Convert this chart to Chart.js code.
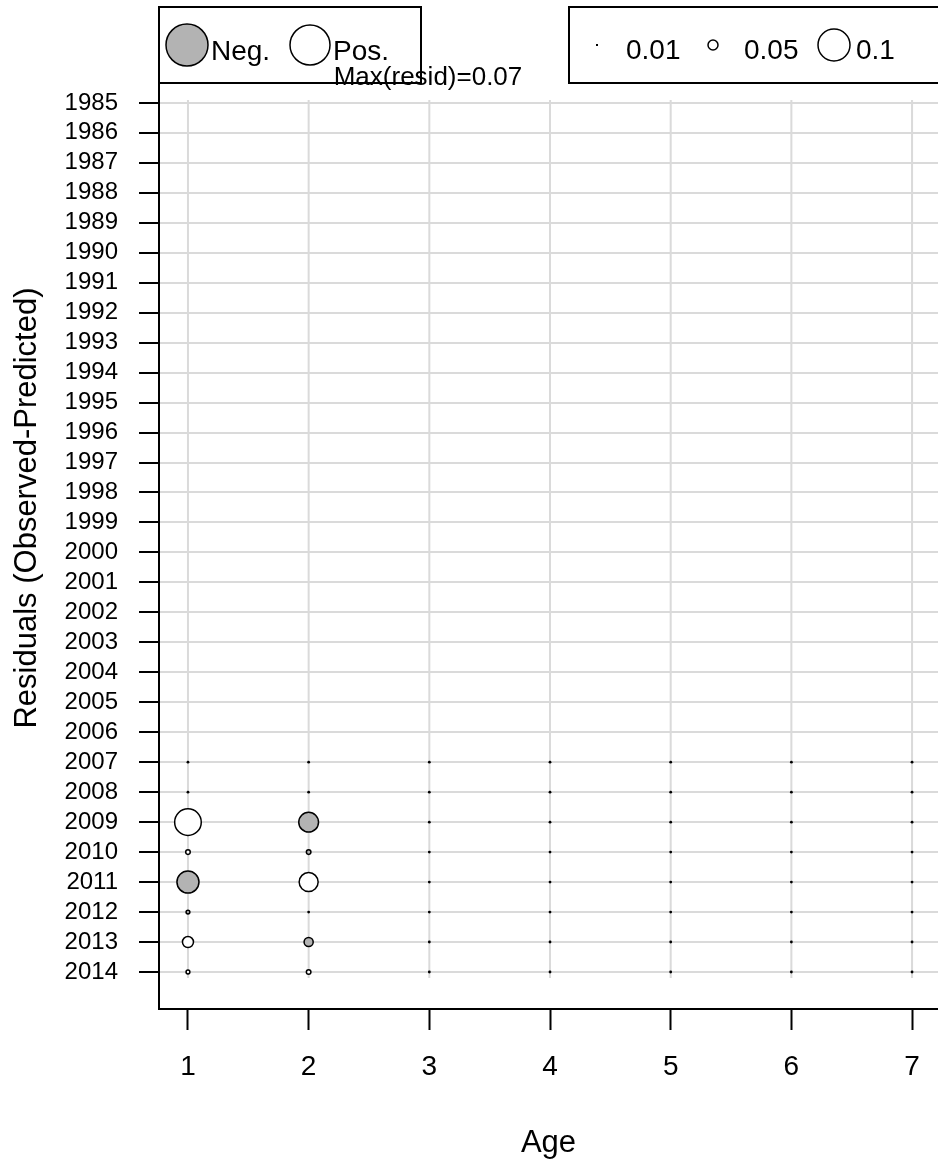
<!DOCTYPE html>
<html><head><meta charset="utf-8">
<script src="https://cdn.jsdelivr.net/npm/chart.js@4.4.0/dist/chart.umd.min.js"></script>
<style>html,body{margin:0;padding:0;background:#fff;overflow:hidden}canvas{display:block}</style>
</head><body>
<canvas id="c" width="938" height="1167"></canvas>
<script>
// ---- data ----
const years = [1985,1986,1987,1988,1989,1990,1991,1992,1993,1994,1995,1996,1997,1998,1999,
               2000,2001,2002,2003,2004,2005,2006,2007,2008,2009,2010,2011,2012,2013,2014];
const ages = [1,2,3,4,5,6,7];
const dataYears = [2007,2008,2009,2010,2011,2012,2013,2014];
const residAge1 = [0, 0, 0.070, 0.012, -0.058, -0.010, 0.029, 0.010];
const residAge2 = [0, 0, -0.052, -0.012, 0.050, 0, -0.024, 0.012];
const residAge3 = [0, 0, 0, 0, 0, 0, 0, 0];
const residAge4 = [0, 0, 0, 0, 0, 0, 0, 0];
const residAge5 = [0, 0, 0, 0, 0, 0, 0, 0];
const residAge6 = [0, 0, 0, 0, 0, 0, 0, 0];
const residAge7 = [0, 0, 0, 0, 0, 0, 0, 0];
const residByAge = [residAge1, residAge2, residAge3, residAge4, residAge5, residAge6, residAge7];
const maxResid = 0.07;
const sizeLegendLabels = ['0.01', '0.05', '0.1'];

// ---- build datasets ----
const SIZE = 190; // px radius per unit residual
const negPts = [], posPts = [], zeroPts = [];
residByAge.forEach((arr, i) => arr.forEach((v, j) => {
  const p = {x: ages[i], y: dataYears[j], r: Math.max(1, Math.abs(v) * SIZE)};
  if (v === 0) zeroPts.push({x: ages[i], y: dataYears[j], r: 1.4});
  else if (v < 0) negPts.push(p);
  else posPts.push(p);
}));
const vGrid = ages.map(a => ({
  type: 'line', data: [{x: a, y: years[0] - 0.1}, {x: a, y: years[years.length - 1] + 0.2}],
  borderColor: '#dadada', borderWidth: 2, pointRadius: 0, order: 10
}));

const FONT = "'Liberation Sans', Arial, sans-serif";
Chart.defaults.font.family = FONT;

const noPad = s => { s.paddingTop = 0; s.paddingBottom = 0; s.paddingLeft = 0; s.paddingRight = 0; };

const legendPlugin = {
  id: 'residLegend',
  afterDraw(chart) {
    const ctx = chart.ctx;
    ctx.save();
    ctx.lineWidth = 2;
    ctx.strokeStyle = '#000';
    ctx.fillStyle = '#fff';
    ctx.fillRect(159, 7, 262, 76); ctx.strokeRect(159, 7, 262, 76);
    ctx.fillRect(569, 7, 380, 76); ctx.strokeRect(569, 7, 380, 76);
    ctx.lineWidth = 1.5;
    const circ = (x, y, r, fill) => {
      ctx.beginPath(); ctx.arc(x, y, r, 0, Math.PI * 2);
      ctx.fillStyle = fill; ctx.fill(); ctx.stroke();
    };
    circ(187, 45, 21, '#b3b3b3');
    circ(310, 45, 20, '#fff');
    ctx.fillStyle = '#000';
    ctx.fillRect(596, 44, 2, 2);
    circ(713, 45, 5, '#fff');
    circ(834, 45, 16, '#fff');
    ctx.fillStyle = '#000';
    ctx.font = '28px ' + FONT;
    ctx.textBaseline = 'alphabetic';
    ctx.textAlign = 'left';
    ctx.fillText('Neg.', 211, 60);
    ctx.fillText('Pos.', 333, 60);
    ctx.fillText(sizeLegendLabels[0], 626, 59);
    ctx.fillText(sizeLegendLabels[1], 744, 59);
    ctx.fillText(sizeLegendLabels[2], 856, 59);
    ctx.font = '26px ' + FONT;
    ctx.textAlign = 'center';
    ctx.fillText('Max(resid)=' + maxResid, 428, 85);
    ctx.restore();
  }
};

new Chart(document.getElementById('c'), {
  type: 'bubble',
  data: {
    datasets: [
      ...vGrid,
      {data: negPts, backgroundColor: '#b3b3b3', borderColor: '#000', borderWidth: 1.5, order: 1},
      {data: posPts, backgroundColor: '#fff', borderColor: '#000', borderWidth: 1.5, order: 1},
      {data: zeroPts, backgroundColor: '#000', borderColor: '#000', borderWidth: 0, order: 0}
    ]
  },
  options: {
    responsive: false,
    animation: false,
    events: [],
    layout: {autoPadding: false, padding: {top: 7, right: 0, left: 0, bottom: 0}},
    plugins: {legend: {display: false}, tooltip: {enabled: false}},
    scales: {
      x: {
        type: 'linear', min: 0.76, max: 7.215,
        afterBuildTicks: s => { s.ticks = ages.map(v => ({value: v})); },
        afterFit: s => { s.height = 158; noPad(s); },
        grid: {drawOnChartArea: false, drawTicks: true, tickLength: 21, tickColor: '#000', tickWidth: 2},
        border: {display: true, color: '#000', width: 2},
        ticks: {font: {size: 28}, color: '#000', padding: 20, autoSkip: false, maxRotation: 0, callback: v => String(v)},
        title: {display: true, text: 'Age', font: {size: 31}, color: '#000', padding: {bottom: 5}}
      },
      y: {
        type: 'linear', reverse: true, min: 1981.8, max: 2015.235,
        afterBuildTicks: s => { s.ticks = years.map(v => ({value: v})); },
        afterFit: s => { s.width = 159; noPad(s); },
        grid: {color: '#dadada', lineWidth: 2, drawTicks: true, tickLength: 20, tickColor: '#000', tickWidth: 2},
        border: {display: true, color: '#000', width: 2},
        ticks: {font: {size: 24}, color: '#000', padding: 21, autoSkip: false, callback: v => String(v)},
        title: {display: true, text: 'Residuals (Observed-Predicted)', font: {size: 31}, color: '#000', padding: {top: 9}}
      }
    }
  },
  plugins: [legendPlugin]
});
</script>
</body></html>
